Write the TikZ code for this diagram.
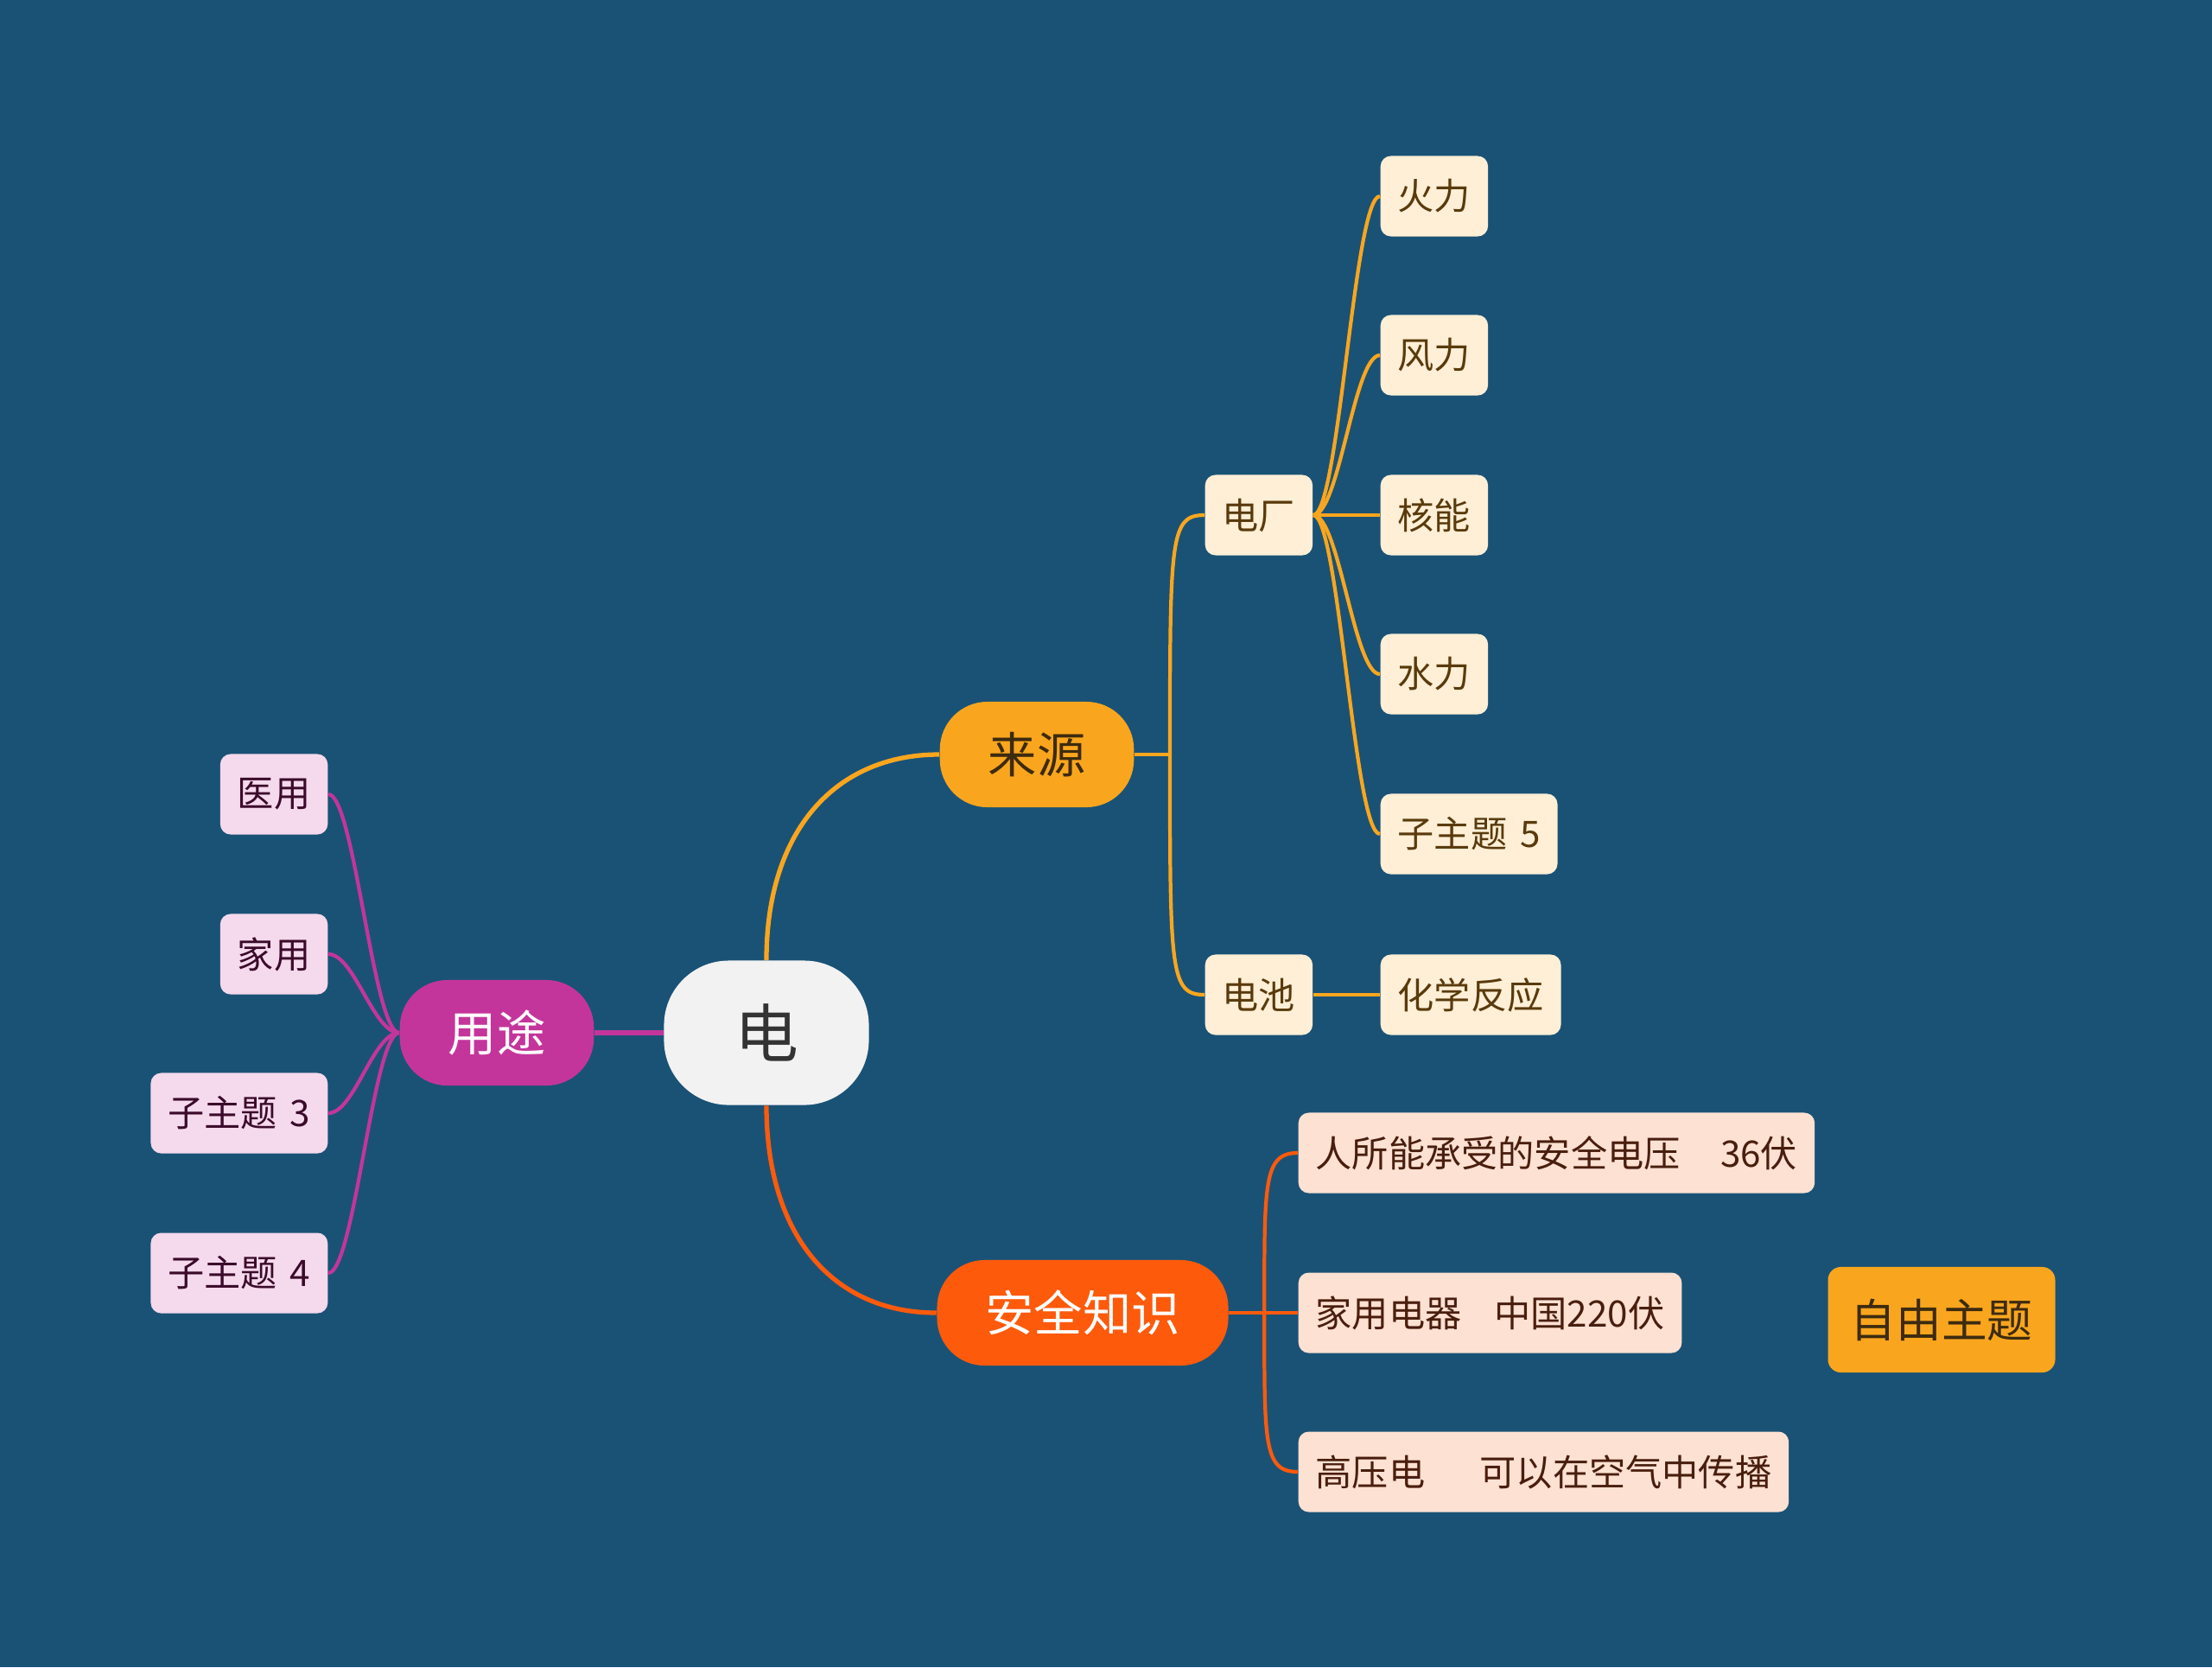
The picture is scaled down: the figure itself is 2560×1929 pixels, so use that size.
\documentclass[tikz,border=0pt]{standalone}
\usepackage{fontspec}
\setmainfont{Noto Sans CJK SC}
\usetikzlibrary{positioning}
\definecolor{Navy}{HTML}{1A5276}
\definecolor{Smoke}{HTML}{F2F2F2}
\definecolor{Amber}{HTML}{F9A61E}
\definecolor{Flame}{HTML}{FD5A0C}
\definecolor{Berry}{HTML}{C4359B}
\definecolor{Cream}{HTML}{FEEFD6}
\definecolor{Peach}{HTML}{FDE1D3}
\definecolor{Blush}{HTML}{F5D9EC}
\definecolor{Bark}{HTML}{5A3A0C}
\definecolor{Rust}{HTML}{4A1E0E}
\definecolor{Plum}{HTML}{3B0B2B}
\definecolor{Soot}{HTML}{3D2B0F}
\tikzset{core/.style={fill=Smoke,text=black!80,rounded corners=0.75cm,
  minimum width=2.37cm,minimum height=1.67cm,font=\fontsize{21pt}{24pt}\selectfont},
  topic/.style={rounded corners=0.55cm,minimum height=1.22cm,inner xsep=0.56cm,
  font=\fontsize{16pt}{19pt}\selectfont},
  leaf/.style={rounded corners=0.12cm,minimum height=0.93cm,inner xsep=0.2cm,
  font=\fontsize{12pt}{14pt}\selectfont},
  wire/.style={line width=1.5pt},twig/.style={line width=1.2pt}}

\begin{document}
\begin{tikzpicture}[x=0.01cm,y=-0.01cm]
\fill[Navy] (0,0) rectangle (2560,1929);
\useasboundingbox (0,0) rectangle (2560,1929);
% main topics
\node[core] (r) at (887,1195) {电};
\node[topic,fill=Berry,text=white] (u) at (575,1195) {用途};
\node[topic,fill=Amber,text=Soot] (s) at (1200,873) {来源};
\node[topic,fill=Flame,text=white] (k) at (1253,1519) {安全知识};
% sources
\node[leaf,fill=Cream,text=Bark,anchor=west] (p) at (1394,596) {电厂};
\node[leaf,fill=Cream,text=Bark,anchor=west] (b) at (1394,1151) {电池};
\node[leaf,fill=Cream,text=Bark,anchor=west] (p1) at (1597,227) {火力};
\node[leaf,fill=Cream,text=Bark,anchor=west] (p2) at (1597,411) {风力};
\node[leaf,fill=Cream,text=Bark,anchor=west] (p3) at (1597,596) {核能};
\node[leaf,fill=Cream,text=Bark,anchor=west] (p4) at (1597,780) {水力};
\node[leaf,fill=Cream,text=Bark,anchor=west] (p5) at (1597,965) {子主题\hspace{0.35em}5};
\node[leaf,fill=Cream,text=Bark,anchor=west] (b1) at (1597,1151) {化学反应};
% safety
\node[leaf,fill=Peach,text=Rust,anchor=west] (k1) at (1502,1334) {人所能承受的安全电压\hspace{1.1em}36伏};
\node[leaf,fill=Peach,text=Rust,anchor=west] (k2) at (1502,1519) {家用电器\hspace{0.9em}中国220伏};
\node[leaf,fill=Peach,text=Rust,anchor=west] (k3) at (1502,1703) {高压电\hspace{1.5em}可以在空气中传播};
% uses
\node[leaf,fill=Blush,text=Plum,anchor=east] (u1) at (380,919) {医用};
\node[leaf,fill=Blush,text=Plum,anchor=east] (u2) at (380,1104) {家用};
\node[leaf,fill=Blush,text=Plum,anchor=east] (u3) at (380,1288) {子主题\hspace{0.35em}3};
\node[leaf,fill=Blush,text=Plum,anchor=east] (u4) at (380,1473) {子主题\hspace{0.35em}4};
% floating
\node[topic,fill=Amber,text=Soot,rounded corners=0.15cm,inner xsep=0.26cm,
  font=\fontsize{15pt}{18pt}\selectfont] (f) at (2247,1527) {自由主题};
% branches
\draw[wire,Berry] (r.west)--(u.east);
\draw[wire,Amber] (r.north) .. controls +(0,-150) and +(-120,0) .. (s.west);
\draw[wire,Flame] (r.south) .. controls +(0,150) and +(-120,0) .. (k.west);
\draw[twig,Amber] (s.east)--++(41,0) coordinate (sj);
\draw[twig,Amber] (sj) .. controls +(0,-250) and +(-40,0) .. (p.west);
\draw[twig,Amber] (sj) .. controls +(0,250) and +(-40,0) .. (b.west);
\draw[twig,Amber] (b.east)--(b1.west);
\draw[twig,Amber] (p.east) .. controls +(30,0) and +(-30,0) .. (p1.west);
\draw[twig,Amber] (p.east) .. controls +(30,0) and +(-30,0) .. (p2.west);
\draw[twig,Amber] (p.east)--(p3.west);
\draw[twig,Amber] (p.east) .. controls +(30,0) and +(-30,0) .. (p4.west);
\draw[twig,Amber] (p.east) .. controls +(30,0) and +(-30,0) .. (p5.west);
\draw[twig,Flame] (k.east)--(k2.west);
\draw[twig,Flame] (k.east)++(41,0) coordinate (kj) .. controls +(0,-150) and +(-40,0) .. (k1.west);
\draw[twig,Flame] (kj) .. controls +(0,150) and +(-40,0) .. (k3.west);
\draw[twig,Berry] (u.west) .. controls +(-30,0) and +(30,0) .. (u1.east);
\draw[twig,Berry] (u.west) .. controls +(-30,0) and +(30,0) .. (u2.east);
\draw[twig,Berry] (u.west) .. controls +(-30,0) and +(30,0) .. (u3.east);
\draw[twig,Berry] (u.west) .. controls +(-30,0) and +(30,0) .. (u4.east);
\end{tikzpicture}
\end{document}
